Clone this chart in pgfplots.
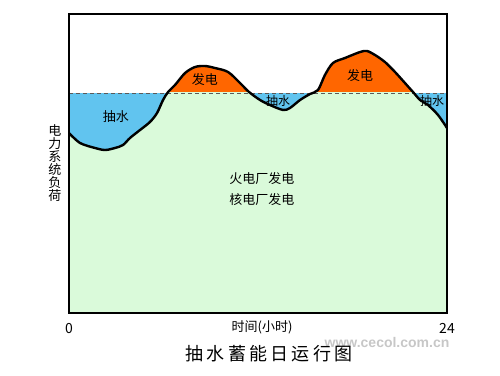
\documentclass[border=0pt]{standalone}
\usepackage{fontspec}
\setmainfont{Noto Sans CJK SC}
\newfontfamily\wm{Liberation Sans}
\usepackage{pgfplots}
\usepackage{pgfplotstable}
\pgfplotsset{compat=1.18}
\definecolor{gfill}{RGB}{218,250,218}
\definecolor{bfill}{RGB}{97,196,239}
\definecolor{ofill}{RGB}{255,102,0}
\pgfplotstableread{
h v
0 180
0.70 170
1.65 165
2.29 163
2.92 165
3.43 168
3.87 175
4.51 183
5.14 191
5.59 200
5.97 213
6.29 221
6.73 228
7.37 240
8.00 246
8.63 247
9.27 245
10.10 241
10.86 230
11.43 221
12.13 213
12.76 208
13.59 203
14.03 205
14.67 213
15.30 219
15.81 223
16.25 238
16.76 250
17.52 255
18.48 261
18.92 262
19.43 258
20.06 251
20.70 241
21.33 230
21.84 221
22.29 213
22.79 208
23.43 198
24 185
}\load
\begin{document}
\begin{tikzpicture}
\path[use as bounding box] (-69pt,-62pt) rectangle (431pt,313pt);
\begin{axis}[at={(0,0)}, anchor=south west, scale only axis,
  width=378pt, height=299pt,
  xmin=0, xmax=24, ymin=0, ymax=299,
  axis line style={line width=1.8pt},
  xtick={0,24}, ytick=\empty, major tick length=0pt,
  /pgf/number format/assume math mode=true,
  xticklabel style={font=\fontsize{14}{14}\selectfont, yshift=-7pt},
  axis on top]
\fill[bfill] (axis cs:0,0) rectangle (axis cs:24,220);
\begin{scope}
\clip (axis cs:0,220) rectangle (axis cs:24,299);
\addplot[fill=ofill, draw=none, smooth, tension=0.5] table {\load} \closedcycle;
\end{scope}
\begin{scope}
\clip (axis cs:0,0) rectangle (axis cs:24,220);
\addplot[fill=gfill, draw=none, smooth, tension=0.5] table {\load} \closedcycle;
\end{scope}
\draw[line width=0.8pt, color=black!65, dash pattern=on 4pt off 3pt] (axis cs:0,220) -- (axis cs:24,220);
\addplot[smooth, tension=0.5, line width=2.4pt, black] table {\load};
\node[font=\fontsize{13}{13}\selectfont] at (axis cs:2.98,196) {抽水};
\node[font=\fontsize{13}{13}\selectfont] at (axis cs:8.63,233) {发电};
\node[font=\fontsize{12}{12}\selectfont] at (axis cs:13.27,212) {抽水};
\node[font=\fontsize{13}{13}\selectfont] at (axis cs:18.48,237) {发电};
\node[font=\fontsize{12}{12}\selectfont] at (axis cs:23.05,212) {抽水};
\node[font=\fontsize{13}{13}\selectfont] at (axis cs:12.25,134) {火电厂发电};
\node[font=\fontsize{13}{13}\selectfont] at (axis cs:12.25,113) {核电厂发电};
\end{axis}
\node[font=\fontsize{13}{13}\selectfont, align=center] at (-14pt,150pt) {电\\力\\系\\统\\负\\荷};
\node[font=\fontsize{13}{13}\selectfont] at (193pt,-14pt) {时间(小时)};
\node[font=\fontsize{14}{14}\selectfont\wm\bfseries, text=black!22] at (318pt,-29pt) {www.cecol.com.cn};
\node[font=\fontsize{18}{18}\selectfont\addfontfeature{LetterSpace=18}] at (200pt,-41pt) {抽水蓄能日运行图};
\end{tikzpicture}
\end{document}
